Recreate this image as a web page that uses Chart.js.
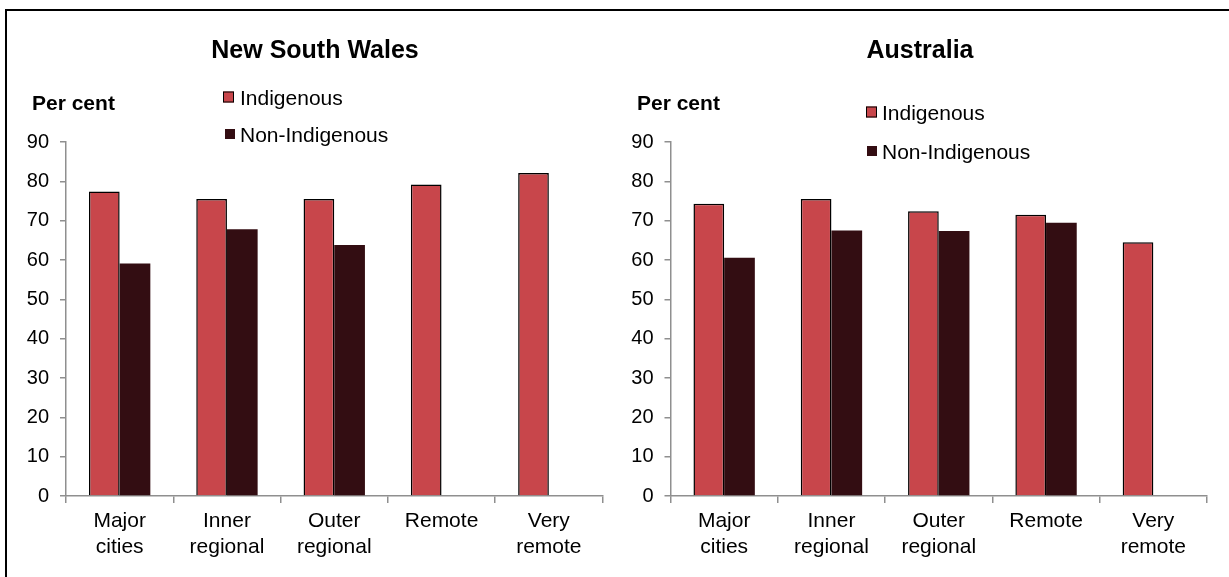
<!DOCTYPE html>
<html>
<head>
<meta charset="utf-8">
<script src="https://cdn.jsdelivr.net/npm/chart.js@4.4.1/dist/chart.umd.min.js"></script>
<style>
  html, body { margin: 0; padding: 0; background: #fff; overflow: hidden; }
  #stage { position: relative; width: 1229px; height: 577px; font-family: 'Liberation Sans', Arial, sans-serif; color: #000; }
  #frame { position: absolute; left: 5px; top: 9px; width: 1300px; height: 700px; border-left: 2px solid #000; border-top: 2px solid #000; }
  canvas { position: absolute; top: 0; display: block; }
  .title { position: absolute; font-weight: bold; font-size: 25px; line-height: 1; transform: translate(-50%, -50%); white-space: nowrap; }
  .unit { position: absolute; font-weight: bold; font-size: 21px; line-height: 1; transform: translateY(-50%); white-space: nowrap; }
  .leg { position: absolute; font-size: 21px; line-height: 1; transform: translateY(-50%); white-space: nowrap; }
  .sw { position: absolute; transform: translateY(-50%); box-sizing: border-box; }
</style>
</head>
<body>
<div id="stage">
  <div id="frame"></div>
  <canvas id="nswChart" width="614" height="577" style="left:0px"></canvas>
  <canvas id="ausChart" width="615" height="577" style="left:614px"></canvas>

  <div class="title" style="left:315px; top:49px">New South Wales</div>
  <div class="title" style="left:920px; top:49px">Australia</div>

  <div class="unit" style="left:32px; top:102px">Per cent</div>
  <div class="unit" style="left:637px; top:102px">Per cent</div>

  <div class="sw" style="left:223px; top:97px; width:11px; height:11px; background:#C8464B; border:1.5px solid #000"></div>
  <div class="leg" style="left:240px; top:97px">Indigenous</div>
  <div class="sw" style="left:225px; top:134px; width:10px; height:10px; background:#330D12"></div>
  <div class="leg" style="left:240px; top:134px">Non-Indigenous</div>

  <div class="sw" style="left:866px; top:111.5px; width:11px; height:11px; background:#C8464B; border:1.5px solid #000"></div>
  <div class="leg" style="left:882px; top:111.5px">Indigenous</div>
  <div class="sw" style="left:867px; top:151px; width:10px; height:10px; background:#330D12"></div>
  <div class="leg" style="left:882px; top:151px">Non-Indigenous</div>
</div>

<script>
  const categories = [['Major', 'cities'], ['Inner', 'regional'], ['Outer', 'regional'], ['Remote'], ['Very', 'remote']];
  const yTicks = [0, 10, 20, 30, 40, 50, 60, 70, 80, 90];

  const nswIndigenous = [77.4, 75.5, 75.5, 79.2, 82.1];
  const nswNonIndigenous = [59.1, 67.8, 63.8, null, null];

  const ausIndigenous = [74.3, 75.5, 72.4, 71.5, 64.5];
  const ausNonIndigenous = [60.6, 67.5, 67.4, 69.5, null];

  Chart.defaults.font.family = "'Liberation Sans', Arial, sans-serif";
  Chart.defaults.color = '#000';

  const axisGrey = '#8f8f8f';

  function makeChart(id, indigenous, nonIndigenous, yWidth, padRight) {
    const ctx = document.getElementById(id).getContext('2d');
    return new Chart(ctx, {
      type: 'bar',
      data: {
        labels: categories,
        datasets: [
          {
            label: 'Indigenous',
            data: indigenous,
            backgroundColor: '#C8464B',
            borderColor: '#000',
            borderWidth: 1.5,
            categoryPercentage: 0.572,
            barPercentage: 1,
          },
          {
            label: 'Non-Indigenous',
            data: nonIndigenous,
            backgroundColor: '#330D12',
            borderWidth: 0,
            categoryPercentage: 0.572,
            barPercentage: 1,
          },
        ],
      },
      options: {
        responsive: false,
        animation: false,
        layout: { padding: { top: 142, right: padRight, left: 0, bottom: 0 } },
        plugins: {
          legend: { display: false },
          tooltip: { enabled: false },
        },
        scales: {
          x: {
            grid: { offset: true, drawOnChartArea: false, tickLength: 7, color: axisGrey, lineWidth: 1.5 },
            border: { color: axisGrey, width: 1.5 },
            ticks: { font: { size: 21, lineHeight: 1.2 }, padding: 6, maxRotation: 0, autoSkip: false },
            afterFit: (scale) => { scale.height = 81; },
          },
          y: {
            min: yTicks[0],
            max: yTicks[yTicks.length - 1],
            afterBuildTicks: (scale) => { scale.ticks = yTicks.map((v) => ({ value: v })); },
            grid: { drawOnChartArea: false, tickLength: 6, color: axisGrey, lineWidth: 1.5 },
            border: { color: axisGrey, width: 1.5 },
            ticks: { font: { size: 20 }, padding: 11 },
            afterFit: (scale) => { scale.width = yWidth; },
          },
        },
      },
    });
  }

  makeChart('nswChart', nswIndigenous, nswNonIndigenous, 66, 11.5);
  makeChart('ausChart', ausIndigenous, ausNonIndigenous, 56.5, 22);
</script>
</body>
</html>
